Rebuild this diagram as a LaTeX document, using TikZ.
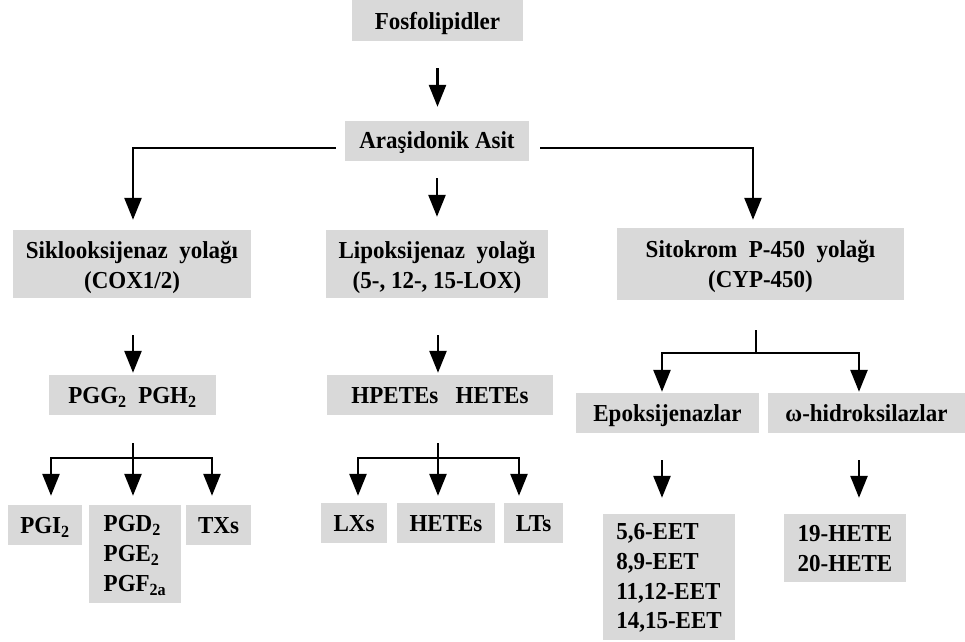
\documentclass[tikz,border=0pt]{standalone}
\usepackage{fontspec}
\usepackage{graphicx}
\setmainfont{Liberation Serif}
\usetikzlibrary{arrows.meta}
\definecolor{boxgray}{RGB}{217,217,217}
% centred lines, lowered by #1
\newcommand{\tbc}[2]{\raisebox{#1}[\height][\depth]{\scalebox{1}[1.06]{\begin{tabular}{@{}c@{}}#2\end{tabular}}}}
% left-aligned lines, lowered by #1
\newcommand{\tbl}[2]{\raisebox{#1}[\height][\depth]{\scalebox{1}[1.06]{\begin{tabular}{@{}l@{}}#2\end{tabular}}}}
\begin{document}
\begin{tikzpicture}[x=1pt,y=-1pt,
  box/.style={fill=boxgray, inner sep=0pt, font=\bfseries\fontsize{23}{28}\selectfont},
  line/.style={line width=2.6pt, draw=black},
  arr/.style={line, -{Triangle[width=17pt,length=22pt]}}]
\useasboundingbox (0,0) rectangle (965,641);

% boxes
\node[box, minimum width=171pt, minimum height=41pt] (fos) at (437.5,20.5) {\tbc{-3pt}{Fosfolipidler}\hspace{10pt}};
\node[box, minimum width=184pt, minimum height=40pt] (ara) at (437,141) {\tbc{-2pt}{Araşidonik Asit}};
\node[box, minimum width=238pt, minimum height=68pt] (cox) at (132,264) {\tbc{-3.5pt}{Siklooksijenaz\ \ yolağı\\(COX1/2)}};
\node[box, minimum width=222pt, minimum height=68pt] (lox) at (437,264) {\tbc{-3.5pt}{Lipoksijenaz\ \ yolağı\\(5-, 12-, 15-LOX)}};
\node[box, minimum width=287pt, minimum height=72pt] (cyp) at (760.5,264) {\tbc{-2.5pt}{Sitokrom\ \ P-450\ \ yolağı\\(CYP-450)}};
\node[box, minimum width=167pt, minimum height=40pt] (pgg) at (132.5,395) {\tbc{-3pt}{PGG\textsubscript{2}\ \ PGH\textsubscript{2}}};
\node[box, minimum width=226pt, minimum height=40pt] (hpe) at (440,395) {\tbc{-3pt}{HPETEs\ \ \ HETEs}};
\node[box, minimum width=183pt, minimum height=40pt] (epo) at (667.5,413) {\tbc{-3pt}{Epoksijenazlar}\hspace{10pt}};
\node[box, minimum width=197pt, minimum height=40pt] (omg) at (866.5,413) {\tbc{-3pt}{ω-hidroksilazlar}\hspace{10pt}};
\node[box, minimum width=74pt, minimum height=40pt] (pgi) at (45,525) {\tbc{-3pt}{PGI\textsubscript{2}}};
\node[box, minimum width=92pt, minimum height=98pt] (pgd) at (135,554) {\tbl{-1.5pt}{PGD\textsubscript{2}\\PGE\textsubscript{2}\\PGF\textsubscript{2a}}};
\node[box, minimum width=65pt, minimum height=40pt] (txs) at (218.5,525) {\tbc{-3pt}{TXs}};
\node[box, minimum width=66pt, minimum height=40pt] (lxs) at (354,523) {\tbc{-3pt}{LXs}};
\node[box, minimum width=98pt, minimum height=40pt] (het) at (446,523) {\tbc{-3pt}{HETEs}};
\node[box, minimum width=59pt, minimum height=40pt] (lts) at (533.5,523) {\tbc{-3pt}{LTs}};
\node[box, minimum width=132pt, minimum height=126pt] (eet) at (669,577) {\tbl{-1.5pt}{5,6-EET\\8,9-EET\\11,12-EET\\14,15-EET}};
\node[box, minimum width=122pt, minimum height=68pt] (hete) at (845,548) {\tbl{-2.5pt}{19-HETE\\20-HETE}};

% connectors
\draw[arr, shorten <=27pt, shorten >=14pt] (fos.south) -- (fos.south |- ara.north);
\draw[arr, shorten <=9pt, shorten >=10pt] ([yshift=-7pt]ara.west) -| ([xshift=1pt]cox.north);
\draw[arr, shorten <=17pt, shorten >=13pt] (ara.south) -- (ara.south |- lox.north);
\draw[arr, shorten <=11pt, shorten >=8pt] ([yshift=-7pt]ara.east) -| ([xshift=-7.5pt]cyp.north);

\draw[arr, shorten <=37pt, shorten >=2pt] ([xshift=1pt]cox.south) -- ([xshift=1pt]cox.south |- pgg.north);
\draw[arr, shorten <=37pt, shorten >=2pt] ([xshift=1pt]lox.south) -- ([xshift=1pt]lox.south |- hpe.north);

% COX branch
\coordinate (pj) at (133,458);
\draw[line, shorten <=28pt] (pj |- pgg.south) -- (pj);
\draw[arr, shorten >=9pt] (pj) -| ([xshift=6pt]pgi.north);
\draw[arr, shorten >=9pt] (pj) -- (pj |- pgd.north);
\draw[arr, shorten >=9pt] (pj) -| ([xshift=-6.5pt]txs.north);

% LOX branch
\coordinate (lj) at (438,458);
\draw[line, shorten <=28pt] (lj |- hpe.south) -- (lj);
\draw[arr, shorten >=7pt] (lj) -| ([xshift=4pt]lxs.north);
\draw[arr, shorten >=7pt] (lj) -- (lj |- het.north);
\draw[arr, shorten >=7pt] (lj) -| ([xshift=-14.5pt]lts.north);

% CYP branch
\coordinate (cj) at (756,353);
\draw[line, shorten <=30pt] (cj |- cyp.south) -- (cj);
\draw[arr, shorten >=1pt] (cj) -| ([xshift=-5.5pt]epo.north);
\draw[arr, shorten >=1pt] (cj) -| ([xshift=-7.5pt]omg.north);

\draw[arr, shorten <=27pt, shorten >=16pt] ([xshift=-5.5pt]epo.south) -- ([xshift=-5.5pt]epo.south |- eet.north);
\draw[arr, shorten <=27pt, shorten >=16pt] ([xshift=-7.5pt]omg.south) -- ([xshift=-7.5pt]omg.south |- hete.north);
\end{tikzpicture}
\end{document}
